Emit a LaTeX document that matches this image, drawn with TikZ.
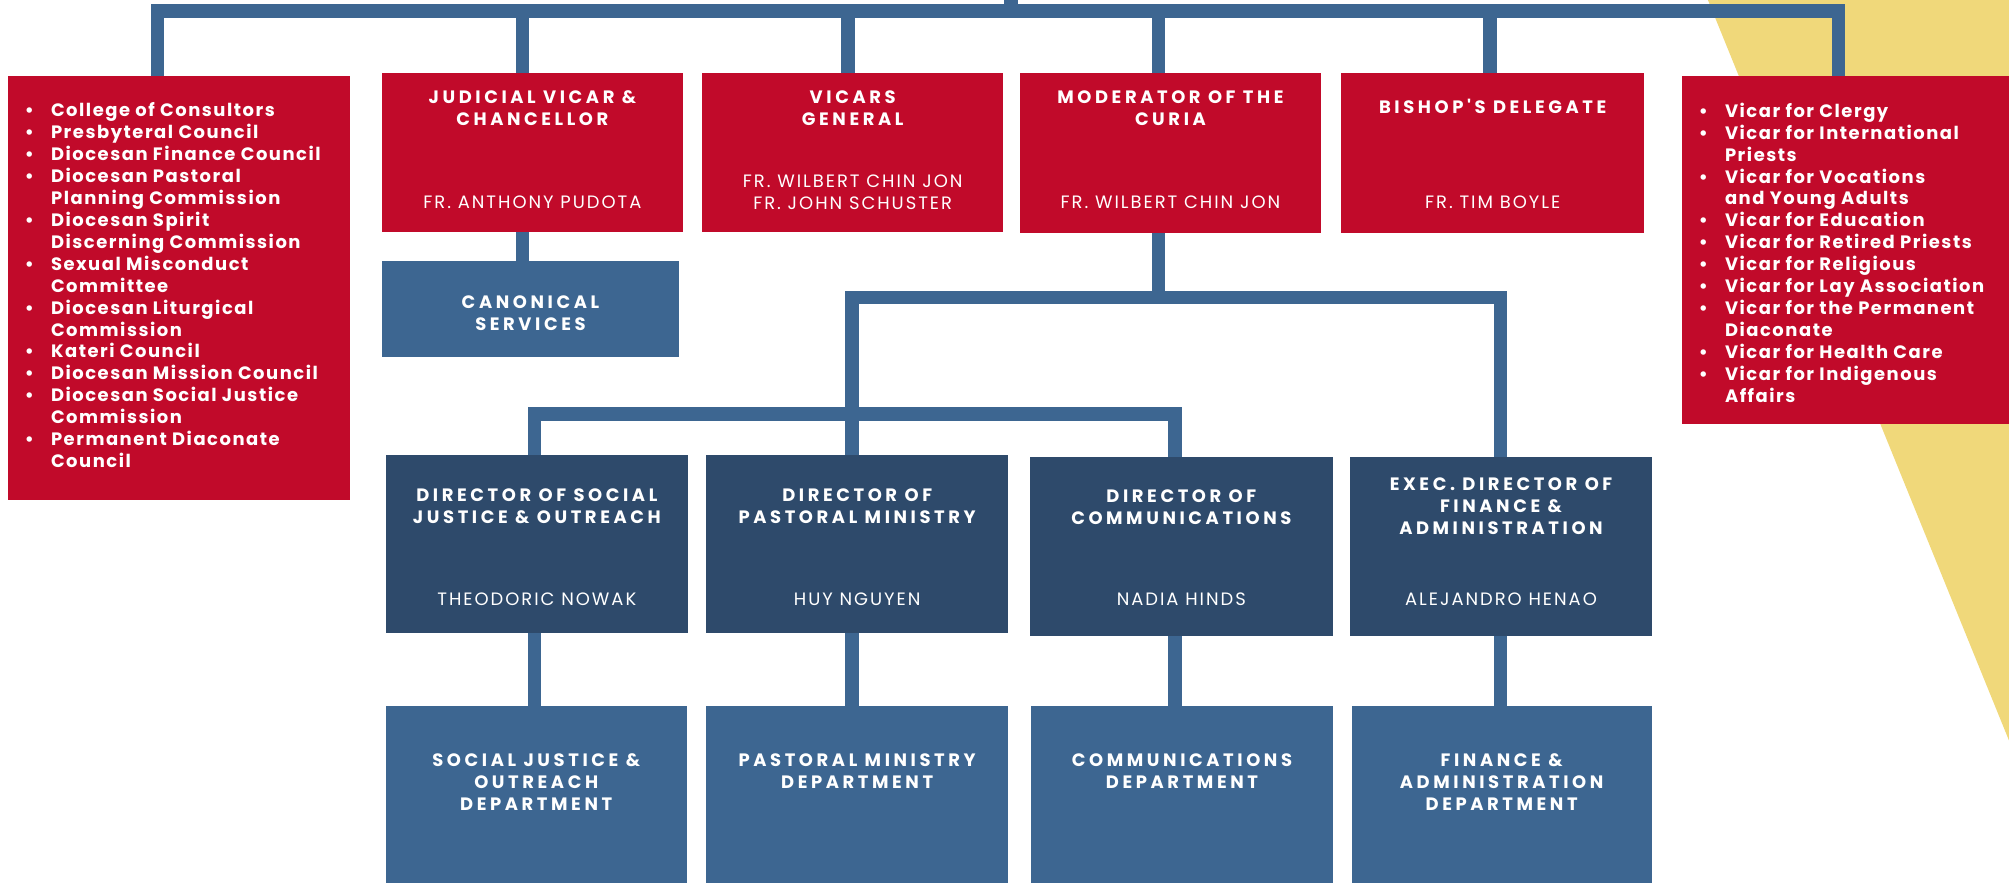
\documentclass[tikz,border=0pt]{standalone}
\usepackage{fontspec}
\setmainfont{Poppins}
\newfontfamily\headfont{Poppins}[LetterSpace=20]
\newfontfamily\namefont{Poppins}[LetterSpace=11]
\newfontfamily\listfont{Poppins}[LetterSpace=8.5]
\usetikzlibrary{calc}
\definecolor{vicred}{HTML}{C10A2A}
\definecolor{navy}{HTML}{2E4A6B}
\definecolor{steel}{HTML}{3D6691}
\definecolor{sand}{HTML}{F0D87A}
\newcommand{\vitem}[1]{\makebox[12.3pt][l]{\textbullet}#1}
\newcommand{\vcont}[1]{\hspace*{12.3pt}#1}
\tikzset{
  box/.style={rectangle, inner sep=0pt, outer sep=0pt, anchor=north west},
  dims/.style 2 args={minimum width=#1*0.6pt, minimum height=#2*0.6pt},
  redbox/.style={box, fill=vicred},
  navybox/.style={box, fill=navy},
  bluebox/.style={box, fill=steel},
  bus/.style={draw=steel, line width=6.3pt},
  headtext/.style={text=white, align=center, inner sep=0pt,
    font=\headfont\bfseries\fontsize{8.4}{10.26}\selectfont},
  nametext/.style={text=white, align=center, inner sep=0pt,
    font=\namefont\fontsize{8.4}{10.26}\selectfont},
  listtext/.style={text=white, align=left, inner sep=0pt, anchor=north west,
    font=\listfont\bfseries\fontsize{8.4}{10.26}\selectfont}
}
\begin{document}
\begin{tikzpicture}[x=0.6pt,y=-0.6pt]
\useasboundingbox (0,0) rectangle (1568,688.4);
\clip (0,0) rectangle (1568,688.4);
% backdrop
\fill[sand] (1333,0) -- (1568,0) -- (1568,578) -- cycle;

% first row
\node[redbox, dims={267}{331}] (leftlist) at (6,59) {};
\node[redbox, dims={235}{124}] (judicial) at (298,57) {};
\node[bluebox, dims={232}{75}] (canon) at (298,204) {};
\node[redbox, dims={235}{124}] (vicars) at (548,57) {};
\node[redbox, dims={235}{125}] (moder) at (796,57) {};
\node[redbox, dims={236}{125}] (bishop) at (1047,57) {};
\node[redbox, dims={260}{272}] (rightlist) at (1313,59) {};

% directors
\node[navybox, dims={236}{139}] (social) at (301,355) {};
\node[navybox, dims={236}{139}] (pastoral) at (551,355) {};
\node[navybox, dims={236}{139}] (comm) at (804,357) {};
\node[navybox, dims={235}{139}] (exec) at (1054,357) {};

% departments
\node[bluebox, dims={235}{140}] (socdept) at (301,551) {};
\node[bluebox, dims={236}{140}] (pasdept) at (551,551) {};
\node[bluebox, dims={235}{140}] (comdept) at (805,551) {};
\node[bluebox, dims={234}{140}] (findept) at (1055,551) {};

% lists
\node[listtext] (leftitems) at ($(leftlist.north west)+(13,21)$) {%
\vitem{College of Consultors}\\
\vitem{Presbyteral Council}\\
\vitem{Diocesan Finance Council}\\
\vitem{Diocesan Pastoral}\\
\vcont{Planning Commission}\\
\vitem{Diocesan Spirit}\\
\vcont{Discerning Commission}\\
\vitem{Sexual Misconduct}\\
\vcont{Committee}\\
\vitem{Diocesan Liturgical}\\
\vcont{Commission}\\
\vitem{Kateri Council}\\
\vitem{Diocesan Mission Council}\\
\vitem{Diocesan Social Justice}\\
\vcont{Commission}\\
\vitem{Permanent Diaconate}\\
\vcont{Council}};
\node[listtext] (rightitems) at ($(rightlist.north west)+(12.5,21)$) {%
\vitem{Vicar for Clergy}\\
\vitem{Vicar for International}\\
\vcont{Priests}\\
\vitem{Vicar for Vocations}\\
\vcont{and Young Adults}\\
\vitem{Vicar for Education}\\
\vitem{Vicar for Retired Priests}\\
\vitem{Vicar for Religious}\\
\vitem{Vicar for Lay Association}\\
\vitem{Vicar for the Permanent}\\
\vcont{Diaconate}\\
\vitem{Vicar for Health Care}\\
\vitem{Vicar for Indigenous}\\
\vcont{Affairs}};

% titles and names
\node[headtext] (judicial-t) at ($(judicial.north)+(0,27.5)$) {JUDICIAL VICAR \&\\CHANCELLOR};
\node[nametext] (judicial-n) at ($(judicial.north)+(0,101)$) {FR. ANTHONY PUDOTA};
\node[headtext] (canon-t) at ($(canon.center)+(0,3)$) {CANONICAL\\SERVICES};
\node[headtext] (vicars-t) at ($(vicars.north)+(0,27.5)$) {VICARS\\GENERAL};
\node[nametext] (vicars-n) at ($(vicars.north)+(0,93)$) {FR. WILBERT CHIN JON\\FR. JOHN SCHUSTER};
\node[headtext] (moder-t) at ($(moder.north)+(0,27.5)$) {MODERATOR OF THE\\CURIA};
\node[nametext] (moder-n) at ($(moder.north)+(0,101)$) {FR. WILBERT CHIN JON};
\node[headtext] (bishop-t) at ($(bishop.north)+(0,26)$) {BISHOP'S DELEGATE};
\node[nametext] (bishop-n) at ($(bishop.north)+(0,101)$) {FR. TIM BOYLE};

\node[headtext] (social-t) at ($(social.north)+(0,40)$) {DIRECTOR OF SOCIAL\\JUSTICE \& OUTREACH};
\node[nametext] (social-n) at ($(social.north)+(0,113)$) {THEODORIC NOWAK};
\node[headtext] (pastoral-t) at ($(pastoral.north)+(0,40)$) {DIRECTOR OF\\PASTORAL MINISTRY};
\node[nametext] (pastoral-n) at ($(pastoral.north)+(0,113)$) {HUY NGUYEN};
\node[headtext] (comm-t) at ($(comm.north)+(0,38.5)$) {DIRECTOR OF\\COMMUNICATIONS};
\node[nametext] (comm-n) at ($(comm.north)+(0,111)$) {NADIA HINDS};
\node[headtext] (exec-t) at ($(exec.north)+(0,38)$) {EXEC. DIRECTOR OF\\FINANCE \&\\ADMINISTRATION};
\node[nametext] (exec-n) at ($(exec.north)+(0,111)$) {ALEJANDRO HENAO};

\node[headtext, anchor=north] (socdept-t) at ($(socdept.north)+(0,37)$) {SOCIAL JUSTICE \&\\OUTREACH\\DEPARTMENT};
\node[headtext, anchor=north] (pasdept-t) at ($(pasdept.north)+(0,37)$) {PASTORAL MINISTRY\\DEPARTMENT};
\node[headtext, anchor=north] (comdept-t) at ($(comdept.north)+(0,37)$) {COMMUNICATIONS\\DEPARTMENT};
\node[headtext, anchor=north] (findept-t) at ($(findept.north)+(0,37)$) {FINANCE \&\\ADMINISTRATION\\DEPARTMENT};

% top bus
\coordinate (root) at (789,0);
\coordinate (busL) at (123,8.5);
\coordinate (busR) at (1435,8.5);
\draw[bus, line cap=rect] (busL) -- (busR);
\draw[bus] (root) -- (root |- busL);
\foreach \xx/\tgt in {123/leftlist, 408/judicial, 662/vicars, 904/moder, 1163/bishop, 1435/rightlist}{
  \coordinate (tap-\tgt) at (\xx,8.5);
  \draw[bus] (tap-\tgt) -- (tap-\tgt |- \tgt.north);
}
\draw[bus] (judicial.south -| tap-judicial) -- (canon.north -| tap-judicial);

% curia branches
\coordinate (mtap) at (904,232);
\coordinate (barAL) at (665,232);
\coordinate (barAR) at (1171,232);
\coordinate (barBL) at (417,323);
\coordinate (barBR) at (917,323);
\draw[bus] (moder.south -| mtap) -- (mtap);
\draw[bus, line cap=rect] (barAL) -- (barAR);
\draw[bus, line cap=rect] (barBL) -- (barBR);
\draw[bus] (barAL) -- (barAL |- pastoral.north);
\draw[bus] (barAR) -- (barAR |- exec.north);
\draw[bus] (barBL) -- (barBL |- social.north);
\draw[bus] (barBR) -- (barBR |- comm.north);

% directors to departments
\draw[bus] (social.south -| barBL) -- (socdept.north -| barBL);
\draw[bus] (pastoral.south -| barAL) -- (pasdept.north -| barAL);
\draw[bus] (comm.south -| barBR) -- (comdept.north -| barBR);
\draw[bus] (exec.south -| barAR) -- (findept.north -| barAR);
\end{tikzpicture}
\end{document}
